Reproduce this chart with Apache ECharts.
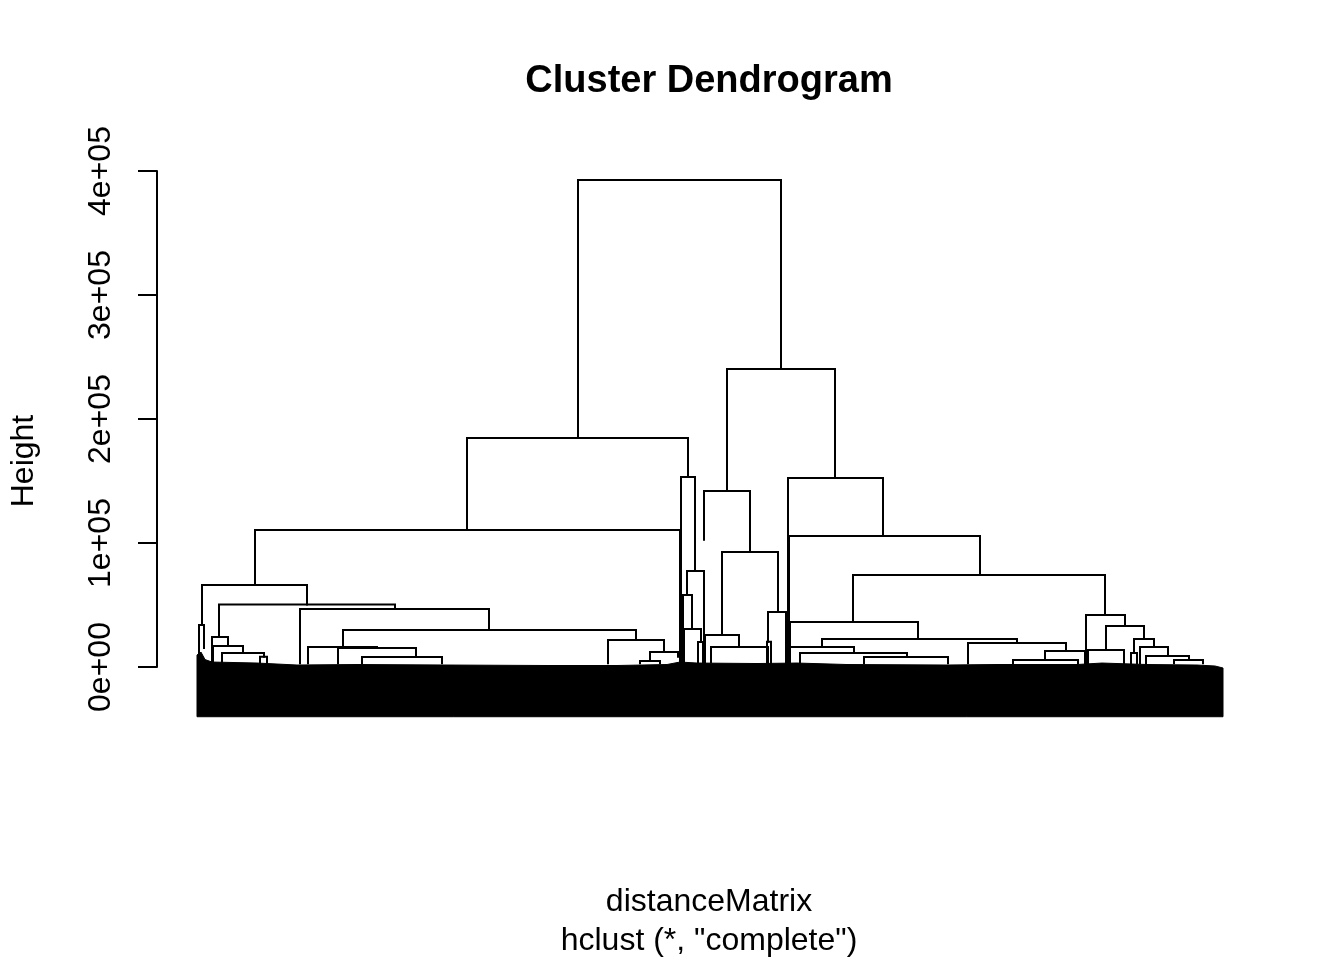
<!DOCTYPE html>
<html><head><meta charset="utf-8">
<script src="https://cdn.jsdelivr.net/npm/echarts@6/dist/echarts.min.js"></script>
<style>html,body{margin:0;padding:0;background:#fff}#c{width:1344px;height:960px}</style>
</head><body><div id="c"></div>
<script>
// Tick labels of the height axis
const yTickLabels = ['0e+00', '1e+05', '2e+05', '3e+05', '4e+05'];

// Merges (U-links) of the dendrogram: leaf-order positions of the two legs,
// merge height, and the height at which each leg ends (child height or hanging leaf end)
const mergeLeft   = [381, 270, 530,  58, 484, 507, 591, 592, 656, 593, 625, 771, 848, 593, 603, 667, 889, 909, 891, 937, 943, 949, 977, 934, 816,   5,   2,  22,  15,  16,  25,  63, 103, 146, 111, 141, 165, 411, 453, 443, 490, 486, 487, 501, 525, 508, 514, 571, 570];
const mergeRight  = [584, 491, 638, 483, 498, 553, 686, 783, 908, 721, 820, 869, 888, 657, 710, 751, 928, 947, 927, 957, 971, 992, 1006, 940, 881, 110,   7, 198,  31,  46,  67,  70, 292, 439, 180, 219, 245, 467, 481, 463, 507, 495, 504, 506, 581, 542, 571, 589, 574];
const mergeHeight = [392700,184700,240300,110500,153200,141900,152400,105600,74200,36300,22600,19400,12900,16100,11300,8100,41900,33100,13700,22600,16100,8900,5600,11300,5600,66100,33900,50400,24200,16900,11300,8300,46800,29800,16100,15300,8100,21800,12100,4800,77400,58100,30600,20200,92700,25800,16100,44400,20400];
const legLeftEnd  = [184700,110500,141900,66100,3000,102600,3000,3000,36300,3000,16100,3000,5600,3000,3000,3000,3000,13700,3000,11300,3000,3000,3000,3000,3000,33900,3000,24200,3000,3000,3000,3000,3000,16100,3000,3000,3000,3000,4800,3000,58100,3000,3000,3000,25800,3000,4000,20400,3000];
const legRightEnd = [240300,153200,152400,3000,77400,92700,105600,74200,41900,22600,19400,12900,3000,11300,8100,3000,33100,22600,3000,16100,8900,5600,3000,3000,3000,50400,15300,46800,16900,11300,8300,3000,29800,21800,15300,8100,3000,12100,8300,3000,3000,30600,20200,3000,44400,16100,3000,3000,3000];

// Dense mass of thousands of hanging leaves: ragged top profile and common bottom
const massPos = [0, 4, 8, 15, 60, 100, 160, 250, 350, 420, 470, 483, 500, 560, 600, 650, 750, 800, 880, 905, 950, 1000, 1018, 1026];
const massTop = [9700, 12000, 6000, 4000, 3200, 1600, 2000, 1600, 1200, 1200, 2000, 4000, 3200, 2800, 3200, 2000, 1600, 2000, 2000, 3200, 2000, 1600, 800, -800];
const massBottom = -40100;

const merges = mergeLeft.map((l, i) => [l, mergeRight[i], mergeHeight[i], legLeftEnd[i], legRightEnd[i]]);

const FONT = '"Liberation Sans", Arial, Helvetica, sans-serif';
const chart = echarts.init(document.getElementById('c'), null, {renderer: 'canvas'});
chart.setOption({
  animation: false,
  backgroundColor: '#fff',
  grid: {left: 197, right: 122, top: 171, bottom: 293, containLabel: false},
  xAxis: {type: 'value', min: 0, max: 1025, show: false},
  yAxis: {
    type: 'value', min: 0, max: 400000, interval: 100000, position: 'left', offset: 40,
    axisLine: {show: true, onZero: false, lineStyle: {color: '#000', width: 2}},
    axisTick: {show: true, length: 19, lineStyle: {color: '#000', width: 2}},
    axisLabel: {rotate: 90, margin: 40, fontSize: 32, color: '#000', fontFamily: FONT,
      formatter: (v, i) => yTickLabels[i]},
    splitLine: {show: false}
  },
  graphic: [
    {type: 'text', x: 709, y: 82, style: {text: 'Cluster Dendrogram', align: 'center', verticalAlign: 'middle', font: 'bold 38px ' + FONT, fill: '#000'}},
    {type: 'text', x: 24, y: 461, rotation: Math.PI / 2, style: {text: 'Height', align: 'center', verticalAlign: 'middle', font: '32px ' + FONT, fill: '#000'}},
    {type: 'text', x: 709, y: 902, style: {text: 'distanceMatrix', align: 'center', verticalAlign: 'middle', font: '32px ' + FONT, fill: '#000'}},
    {type: 'text', x: 709, y: 941, style: {text: 'hclust (*, "complete")', align: 'center', verticalAlign: 'middle', font: '32px ' + FONT, fill: '#000'}}
  ],
  series: [
    {
      type: 'custom', clip: false, silent: true, z: 1,
      data: [[0]],
      renderItem: (params, api) => {
        const pts = massPos.map((p, i) => api.coord([p, massTop[i]]));
        pts.push(api.coord([massPos[massPos.length - 1], massBottom]));
        pts.push(api.coord([massPos[0], massBottom]));
        return {type: 'polygon', shape: {points: pts}, style: {fill: '#000', stroke: '#000', lineWidth: 1}};
      }
    },
    {
      type: 'custom', clip: false, silent: true, z: 2,
      data: merges,
      renderItem: (params, api) => {
        const xl = api.value(0), xr = api.value(1), h = api.value(2), bl = api.value(3), br = api.value(4);
        return {
          type: 'polyline',
          shape: {points: [api.coord([xl, bl]), api.coord([xl, h]), api.coord([xr, h]), api.coord([xr, br])]},
          style: {stroke: '#000', lineWidth: 2, fill: null, lineJoin: 'miter', lineCap: 'square'}
        };
      }
    }
  ]
});
</script></body></html>
